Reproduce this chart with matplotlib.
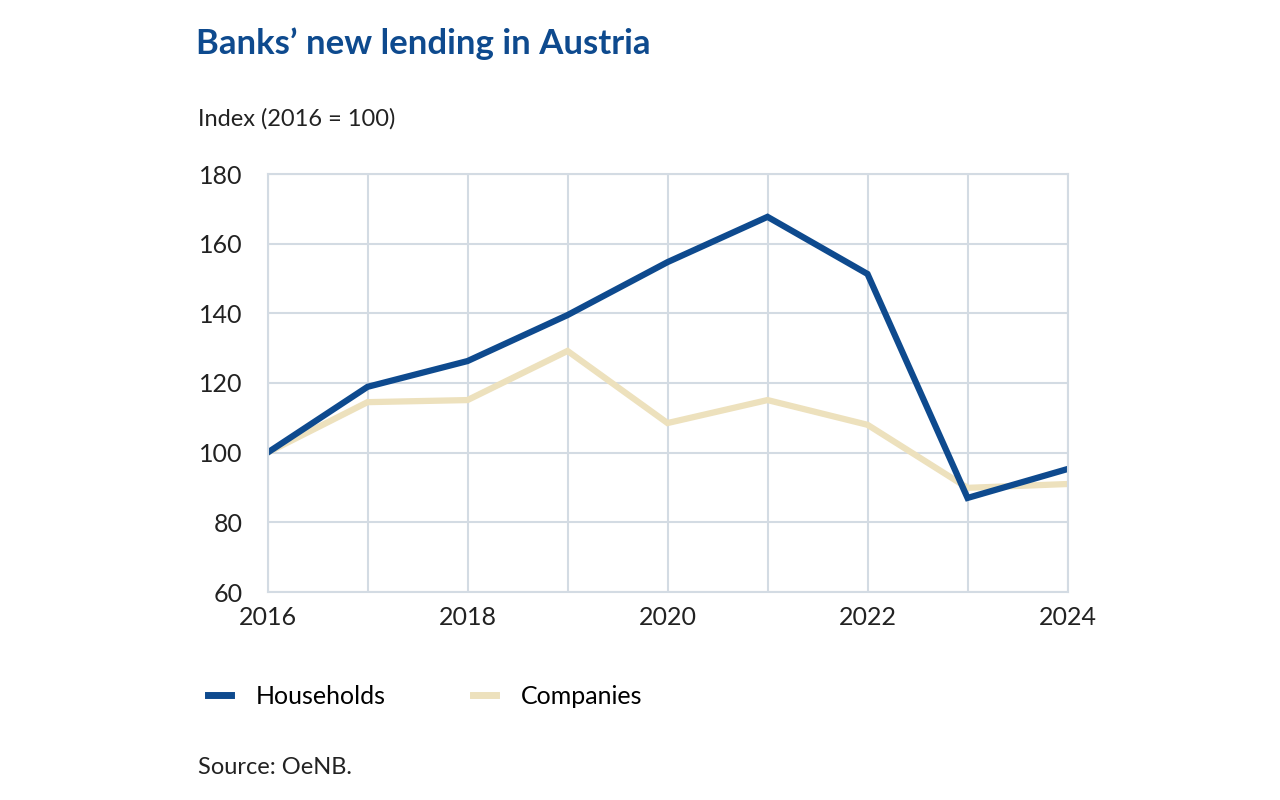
import matplotlib.pyplot as plt

years = [2016, 2017, 2018, 2019, 2020, 2021, 2022, 2023, 2024]
households = [100, 118.9, 126.3, 139.5, 154.7, 167.7, 151.3, 87, 95.3]
companies = [100, 114.5, 115.1, 129.2, 108.5, 115.1, 108, 89.9, 91]

plt.rcParams['font.family'] = 'Lato'
blue = '#0e4a8e'
beige = '#ede1bd'
grid = '#d3dbe3'

fig = plt.figure(figsize=(12.8, 8), dpi=100)
ax = fig.add_axes([0.209, 0.26, 0.625, 0.5225])
ax.plot(years, companies, color=beige, lw=4.5, label='Companies', solid_joinstyle='miter')
ax.plot(years, households, color=blue, lw=4.5, label='Households', solid_joinstyle='miter')
ax.set_xlim(2016, 2024)
ax.set_ylim(60, 180)
ax.set_xticks(range(2016, 2025))
ax.set_xticklabels([str(y) if y % 2 == 0 else '' for y in range(2016, 2025)])
ax.set_yticks(range(60, 181, 20))
ax.grid(True, color=grid, lw=1.5)
for s in ax.spines.values():
    s.set_color(grid)
    s.set_linewidth(1.5)
ax.tick_params(length=0, labelsize=18, colors='#222222', pad=10)
ax.tick_params(axis='y', pad=18)

fig.text(0.153, 0.945, 'Banks\u2019 new lending in Austria', fontsize=25, fontweight='bold',
         color=blue, va='center')
fig.text(0.155, 0.852, 'Index (2016 = 100)', fontsize=17, color='#222222', va='center')
fig.text(0.155, 0.04, 'Source: OeNB.', fontsize=17, color='#222222', va='center')

h = [plt.Line2D([], [], color=blue, lw=5), plt.Line2D([], [], color=beige, lw=5)]
fig.legend(h, ['Households', 'Companies'], loc='center left', bbox_to_anchor=(0.145, 0.13),
           ncol=2, frameon=False, fontsize=18, handlelength=0.9, columnspacing=3.5,
           handletextpad=1.0)

fig.savefig('out.png', dpi=100)
